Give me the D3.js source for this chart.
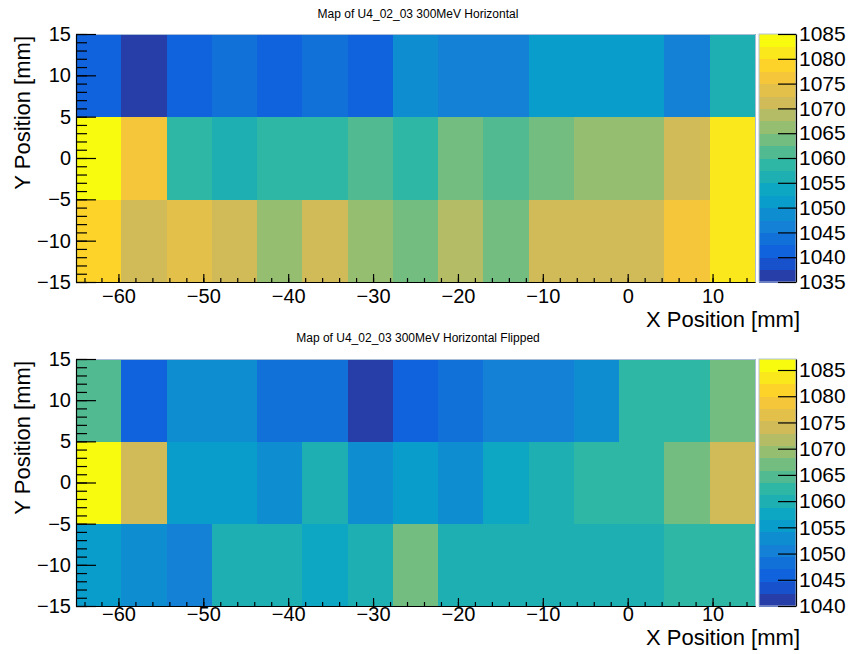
<!DOCTYPE html>
<html>
<head>
<meta charset="utf-8">
<script src="https://cdn.jsdelivr.net/npm/d3@7"></script>
<style>
  html, body { margin: 0; padding: 0; background: #fff; }
  svg { display: block; font-family: "Liberation Sans", Arial, Helvetica, sans-serif; }
</style>
</head>
<body>
<svg id="chart" width="852" height="654"></svg>
<script>
// Binning of the scan: 15 x-bins over [-65, 15] mm, 3 y-bins over [-15, 15] mm
const xRange = [-65, 15];
const xBinCount = 15;
const yEdges = [-15, -5, 5, 15];

// Horizontal scan, one array per y-row (values in x-bin order)
const horizontalRowLow  = [1078.6, 1071.0, 1073.8, 1070.9, 1066.2, 1071.3, 1066.0, 1063.8, 1068.7, 1063.2, 1071.4, 1070.8, 1071.1, 1076.4, 1081.0];
const horizontalRowMid  = [1085.0, 1076.1, 1058.6, 1056.4, 1059.0, 1058.3, 1061.2, 1058.9, 1063.7, 1061.0, 1063.4, 1066.1, 1066.4, 1071.2, 1081.3];
const horizontalRowHigh = [1041.4, 1035.0, 1040.8, 1043.6, 1041.2, 1043.1, 1041.7, 1048.3, 1046.2, 1045.8, 1051.4, 1050.9, 1051.2, 1046.5, 1056.3];

// Horizontal scan, flipped
const flippedRowLow  = [1055.4, 1052.9, 1050.5, 1060.0, 1059.8, 1057.6, 1060.2, 1067.0, 1059.9, 1060.1, 1059.7, 1060.3, 1059.8, 1062.4, 1062.1];
const flippedRowMid  = [1087.1, 1074.1, 1055.2, 1055.0, 1052.9, 1059.9, 1053.0, 1055.3, 1052.7, 1057.5, 1060.1, 1062.4, 1062.2, 1067.1, 1074.0];
const flippedRowHigh = [1064.6, 1045.9, 1052.9, 1053.1, 1048.2, 1048.0, 1040.0, 1045.7, 1048.3, 1050.6, 1050.4, 1052.8, 1062.3, 1062.5, 1067.0];

// Axis ticks
const xTicks = [-60, -50, -40, -30, -20, -10, 0, 10];
const xMinorTicks = d3.range(-64, 15.01, 2);
const yTicks = [-15, -10, -5, 0, 5, 10, 15];
const yMinorTicks = d3.range(-15, 15.01, 1);
const zTicksHorizontal = [1035, 1040, 1045, 1050, 1055, 1060, 1065, 1070, 1075, 1080, 1085];
const zTicksFlipped = [1040, 1045, 1050, 1055, 1060, 1065, 1070, 1075, 1080, 1085];

const titles = ["Map of U4_02_03 300MeV Horizontal", "Map of U4_02_03 300MeV Horizontal Flipped"];
const nContours = 20;

// Bird palette (stops / rgb) interpolated to a colour at fraction f
const birdStops = [0.0, 0.125, 0.25, 0.375, 0.5, 0.625, 0.75, 0.875, 1.0];
const birdR = [0.2082, 0.0592, 0.0780, 0.0232, 0.1802, 0.5301, 0.8186, 0.9956, 0.9764];
const birdG = [0.1664, 0.3599, 0.5041, 0.6419, 0.7178, 0.7492, 0.7328, 0.7862, 0.9832];
const birdB = [0.5293, 0.8684, 0.8385, 0.7914, 0.6425, 0.4662, 0.3499, 0.1968, 0.0539];
function bird(f) {
  let i = 0;
  while (i < birdStops.length - 2 && f > birdStops[i + 1]) i++;
  const t = (f - birdStops[i]) / (birdStops[i + 1] - birdStops[i]);
  const c = arr => Math.round(255 * (arr[i] + t * (arr[i + 1] - arr[i])));
  return d3.rgb(c(birdR), c(birdG), c(birdB)).formatHex();
}
const levelColors = d3.range(nContours).map(k => bird(Math.floor((k + 0.99) * 255 / nContours) / 254));

const svg = d3.select("#chart");

function drawPanel(cfg) {
  const g = svg.append("g");
  const rows = [cfg.low, cfg.mid, cfg.high];
  const cells = [];
  const xStep = (xRange[1] - xRange[0]) / xBinCount;
  rows.forEach((vals, r) => vals.forEach((v, c) => cells.push({
    x0: xRange[0] + c * xStep, x1: xRange[0] + (c + 1) * xStep,
    y0: yEdges[r], y1: yEdges[r + 1], v
  })));

  const allVals = rows.flat();
  const zExtent = d3.extent(allVals);

  const x = d3.scaleLinear().domain(xRange).range([cfg.left, cfg.right]);
  const y = d3.scaleLinear().domain([yEdges[0], yEdges[yEdges.length - 1]]).range([cfg.bottom, cfg.top]);
  const color = d3.scaleQuantize().domain(zExtent).range(levelColors);
  const z = d3.scaleLinear().domain(zExtent).range([cfg.bottom, cfg.top]);

  // cells
  g.append("g").attr("shape-rendering", "crispEdges")
    .selectAll("rect").data(cells).join("rect")
    .attr("x", d => x(d.x0)).attr("width", d => x(d.x1) - x(d.x0) + 0.5)
    .attr("y", d => y(d.y1)).attr("height", d => y(d.y0) - y(d.y1) + 0.5)
    .attr("fill", d => color(d.v));

  // faint frame on top and right
  g.append("path")
    .attr("d", `M${cfg.left},${cfg.top + 0.5}H${cfg.right + 0.5}V${cfg.bottom}`)
    .attr("fill", "none").attr("stroke", "#a9bdd6").attr("stroke-width", 1);

  // title
  g.append("text").attr("x", 418).attr("y", cfg.titleY)
    .attr("text-anchor", "middle").attr("font-size", 12).attr("fill", "#000")
    .text(cfg.title);

  // x axis: minor then major ticks pointing up into the frame
  const xMinor = g.append("g").attr("transform", `translate(0,${cfg.bottom})`)
    .call(d3.axisBottom(x).tickValues(xMinorTicks).tickSizeInner(-4).tickSizeOuter(0).tickFormat(""));
  xMinor.select(".domain").remove();
  const xAx = g.append("g").attr("transform", `translate(0,${cfg.bottom})`)
    .call(d3.axisBottom(x).tickValues(xTicks).tickSizeInner(-8).tickSizeOuter(0).tickPadding(cfg.xLabelPad));
  xAx.selectAll("text").attr("font-size", 20).attr("font-family", "Liberation Sans, Arial, sans-serif");

  // y axis
  const yMinor = g.append("g").attr("transform", `translate(${cfg.left},0)`)
    .call(d3.axisLeft(y).tickValues(yMinorTicks).tickSizeInner(-11).tickSizeOuter(0).tickFormat(""));
  yMinor.select(".domain").remove();
  const yAx = g.append("g").attr("transform", `translate(${cfg.left},0)`)
    .call(d3.axisLeft(y).tickValues(yTicks).tickSizeInner(-20).tickSizeOuter(0).tickPadding(5));
  yAx.selectAll("text").attr("font-size", 20).attr("font-family", "Liberation Sans, Arial, sans-serif");

  [xMinor, xAx, yMinor, yAx].forEach(a => a.selectAll("line,path").attr("stroke", "#000").attr("stroke-width", 1.2));

  // axis titles
  g.append("text").attr("x", 800).attr("y", cfg.xTitleY)
    .attr("text-anchor", "end").attr("font-size", 22).text("X Position [mm]");
  g.append("text").attr("transform", `translate(30,${cfg.top + 2}) rotate(-90)`)
    .attr("text-anchor", "end").attr("font-size", 22).text("Y Position [mm]");

  // colour palette
  const bands = d3.range(nContours).map(k => ({
    z0: zExtent[0] + k * (zExtent[1] - zExtent[0]) / nContours,
    z1: zExtent[0] + (k + 1) * (zExtent[1] - zExtent[0]) / nContours,
    c: levelColors[k]
  }));
  g.append("g").attr("shape-rendering", "crispEdges")
    .selectAll("rect").data(bands).join("rect")
    .attr("x", cfg.palLeft).attr("width", cfg.palRight - cfg.palLeft)
    .attr("y", d => z(d.z1)).attr("height", d => z(d.z0) - z(d.z1) + 0.5)
    .attr("fill", d => d.c);
  g.append("rect").attr("x", cfg.palLeft).attr("y", cfg.top)
    .attr("width", cfg.palRight - cfg.palLeft).attr("height", cfg.bottom - cfg.top)
    .attr("fill", "none").attr("stroke", "#b4c3d8").attr("stroke-width", 1);
  const zAx = g.append("g").attr("transform", `translate(${cfg.palRight},0)`)
    .call(d3.axisRight(z).tickValues(cfg.zTicks).tickSizeInner(-18).tickSizeOuter(0).tickPadding(3).tickFormat(d3.format("d")));
  zAx.selectAll("line,path").attr("stroke", "#000").attr("stroke-width", 1.2);
  zAx.selectAll("text").attr("font-size", 21).attr("font-family", "Liberation Sans, Arial, sans-serif");
}

drawPanel({
  title: titles[0], low: horizontalRowLow, mid: horizontalRowMid, high: horizontalRowHigh,
  zTicks: zTicksHorizontal,
  left: 76, right: 755, top: 34, bottom: 282, palLeft: 759, palRight: 796,
  titleY: 18, xTitleY: 327, xLabelPad: 7
});
drawPanel({
  title: titles[1], low: flippedRowLow, mid: flippedRowMid, high: flippedRowHigh,
  zTicks: zTicksFlipped,
  left: 76, right: 755, top: 359, bottom: 606, palLeft: 759, palRight: 796,
  titleY: 342, xTitleY: 645, xLabelPad: 1
});
</script>
</body>
</html>
